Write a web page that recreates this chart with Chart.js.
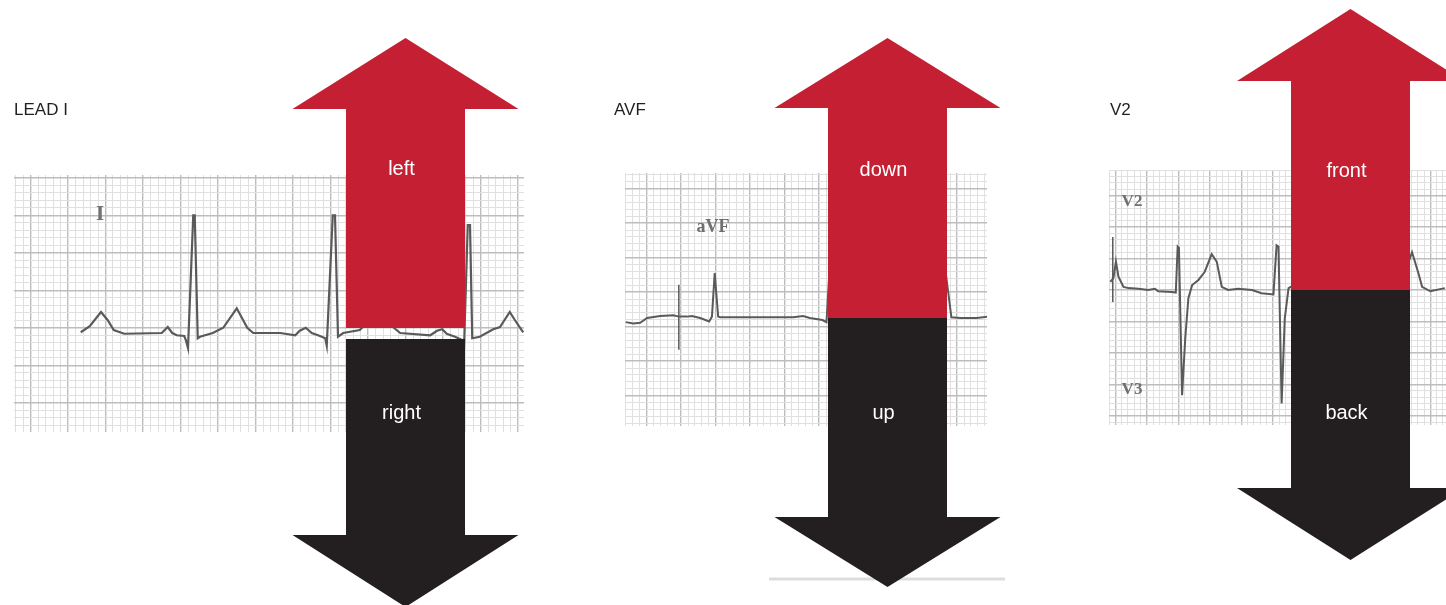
<!DOCTYPE html>
<html>
<head>
<meta charset="utf-8">
<script src="https://cdn.jsdelivr.net/npm/chart.js@4.4.1/dist/chart.umd.min.js"></script>
<style>
  html, body { margin: 0; padding: 0; background: #fff; }
  #wrap { position: relative; width: 1446px; height: 605px; overflow: hidden; }
  canvas { position: absolute; top: 0; }
</style>
</head>
<body>
<div id="wrap">
  <canvas id="leadI" style="left:0px" width="560" height="605"></canvas>
  <canvas id="leadAVF" style="left:560px" width="500" height="605"></canvas>
  <canvas id="leadV2" style="left:1060px" width="386" height="605"></canvas>
</div>
<script>
// traces in small squares (mm): x from strip left, y above baseline

// lead I
const leadIX = [8.9, 10.1, 11.6, 12.5, 13.3, 14.7, 19.7, 20.1, 20.5, 21.1, 21.7, 22.7, 22.9, 23.2,
  23.9, 24.1, 24.5, 24.8, 26.5, 27.9, 29.7, 31.1, 31.9, 35.5, 37.5, 38.1, 38.9, 39.7, 40.8, 41.5, 41.7,
  42.5, 42.8, 43.2, 43.9, 46.1, 47.7, 48.9, 50.4, 51.5, 55.5, 56.4, 57.1, 57.7, 58.8, 59.7, 60.0,
  60.5, 60.8, 61.1, 62.1, 63.9, 64.8, 66.1, 66.8, 67.9];
const leadIY = [0.1, 0.9, 2.8, 1.7, 0.4, -0.1, 0, 0.4, 0.8, 0, -0.3, -0.4, -0.9, -2.0,
  15.7, 15.7, -0.7, -0.5, 0, 0.7, 3.3, 0.7, 0, 0, -0.3, 0.3, 0.7, 0, -0.4, -0.7, -1.7,
  15.7, 15.7, -0.5, 0, 0.4, 2.0, 2.8, 0.9, 0, -0.3, 0.3, 0.5, -0.1, -0.5, -0.9, -2.0,
  14.4, 14.4, -0.7, -0.5, 0.5, 0.8, 2.8, 1.7, 0.1];

// aVF
const avfX = [0.1, 1.2, 2.2, 3.2, 5.1, 7.0, 7.8, 9.0, 9.7, 10.9, 12.2, 12.6, 13.0, 13.5, 13.8, 18.6,
  24.4, 25.8, 26.8, 28.6, 29.2, 29.6, 30.0, 34.1, 39.9, 44.9, 46.1, 46.5, 47.3, 48.6, 51.0, 52.5];
const avfY = [-0.6, -0.8, -0.7, 0, 0.3, 0.4, 0.2, 0.2, 0.3, 0, -0.5, 0.2, 6.5, 0.2, 0.1, 0.1,
  0.1, 0.3, 0, -0.3, -0.6, 6.4, 0, 0, 0, -0.1, -0.4, 6.4, 0.1, 0, 0, 0.2];
const avfCalX = [7.8, 7.8];
const avfCalY = [4.8, -4.6];

// V2
const v2X = [0.2, 0.7, 1.1, 1.5, 2.3, 3.1, 4.7, 6.2, 7.3, 7.8, 10.0, 10.6, 10.9, 11.1, 11.6, 12.1,
  12.6, 13.2, 14.2, 15.2, 16.3, 17.1, 17.9, 18.9, 20.5, 22.7, 24.2, 26.1, 26.6, 26.9, 27.4, 27.9,
  28.5, 30.3, 32.1, 33.8, 36.7, 41.8, 42.2, 42.5, 43.2, 43.7, 44.3, 45.9, 47.0, 48.1, 49.1, 49.7,
  51.0, 53.3];
const v2Y = [1.3, 1.9, 4.5, 2.1, 0.5, 0.3, 0.2, 0, 0.2, -0.2, -0.3, -0.4, 6.9, 6.7, -16.7, -7.7,
  -1.3, 0.8, 1.6, 2.9, 5.7, 4.5, 0.5, 0, 0.2, 0, -0.5, -0.7, 7.1, 6.9, -18.0, -4.5,
  0.3, 1.3, 5.6, 0.5, 0, -0.6, 7.0, 7.0, -17.9, -4.4, 0, 1.3, 2.9, 6.0, 2.7, 0.5,
  -0.2, 0.3];
const v2CalX = [0.6, 0.6];
const v2CalY = [8.4, -1.9];

const RED = '#c41f33';
const BLACK = '#231f20';
const TRACE = '#5a5a5a';

function pts(xs, ys) {
  return xs.map((x, i) => ({ x: x, y: ys[i] }));
}

// paper grid: a line every mm, darker every 5 mm
function gridTicks(min, max, majorAt) {
  const ticks = [];
  for (let k = Math.ceil(min - majorAt); majorAt + k <= max; k++) {
    ticks.push({ value: majorAt + k, major: ((k % 5) + 5) % 5 === 0 });
  }
  return ticks;
}

function paperAxis(min, max, majorAt) {
  return {
    type: 'linear',
    min: min,
    max: max,
    afterBuildTicks: (scale) => { scale.ticks = gridTicks(min, max, majorAt); },
    ticks: { display: false },
    border: { display: false },
    grid: {
      drawTicks: false,
      color: (c) => (c.tick && c.tick.major) ? '#bdbdbd' : '#e0e0e0',
      lineWidth: (c) => (c.tick && c.tick.major) ? 1.4 : 1
    }
  };
}

// arrows and labels drawn over the strips
const decor = {
  leadI: {
    title: { text: 'LEAD I', x: 14, y: 110 },
    paper: [{ text: 'I', x: 100, y: 215, size: 21 }],
    arrows: [
      { cx: 405.5, shaft: 59.5, head: 113, tip: 38, base: 109, end: 328, color: RED, label: 'left', ly: 169 },
      { cx: 405.5, shaft: 59.5, head: 113, tip: 607, base: 535, end: 339, color: BLACK, label: 'right', ly: 413 }
    ]
  },
  leadAVF: {
    title: { text: 'AVF', x: 54, y: 110 },
    paper: [{ text: 'aVF', x: 153, y: 227, size: 18 }],
    rule: { x1: 209, x2: 445, y: 579 },
    arrows: [
      { cx: 327.5, shaft: 59.5, head: 113, tip: 38, base: 108, end: 318, color: RED, label: 'down', ly: 170 },
      { cx: 327.5, shaft: 59.5, head: 113, tip: 587, base: 517, end: 318, color: BLACK, label: 'up', ly: 413 }
    ]
  },
  leadV2: {
    title: { text: 'V2', x: 50, y: 110 },
    paper: [{ text: 'V2', x: 72, y: 202, size: 17 }, { text: 'V3', x: 72, y: 390, size: 17 }],
    arrows: [
      { cx: 290.5, shaft: 59.5, head: 113.5, tip: 9, base: 81, end: 290, color: RED, label: 'front', ly: 171 },
      { cx: 290.5, shaft: 59.5, head: 113.5, tip: 560, base: 488, end: 290, color: BLACK, label: 'back', ly: 413 }
    ]
  }
};

function drawArrow(ctx, a) {
  ctx.fillStyle = a.color;
  ctx.beginPath();
  ctx.moveTo(a.cx, a.tip);
  ctx.lineTo(a.cx + a.head, a.base);
  ctx.lineTo(a.cx + a.shaft, a.base);
  ctx.lineTo(a.cx + a.shaft, a.end);
  ctx.lineTo(a.cx - a.shaft, a.end);
  ctx.lineTo(a.cx - a.shaft, a.base);
  ctx.lineTo(a.cx - a.head, a.base);
  ctx.closePath();
  ctx.fill();
}

const overlayPlugin = {
  id: 'overlay',
  afterDraw(chart) {
    const d = decor[chart.canvas.id];
    if (!d) return;
    const ctx = chart.ctx;
    ctx.save();
    ctx.textBaseline = 'middle';

    ctx.fillStyle = '#707070';
    ctx.textAlign = 'center';
    d.paper.forEach(p => {
      ctx.font = 'bold ' + p.size + 'px "Liberation Serif", "DejaVu Serif", serif';
      ctx.fillText(p.text, p.x, p.y);
    });

    if (d.rule) {
      ctx.strokeStyle = '#dddddd';
      ctx.lineWidth = 3;
      ctx.beginPath();
      ctx.moveTo(d.rule.x1, d.rule.y);
      ctx.lineTo(d.rule.x2, d.rule.y);
      ctx.stroke();
    }

    d.arrows.forEach(a => drawArrow(ctx, a));

    ctx.fillStyle = '#ffffff';
    ctx.font = '20px "Liberation Sans", Arial, sans-serif';
    d.arrows.forEach(a => ctx.fillText(a.label, a.cx - 4, a.ly));

    ctx.fillStyle = '#231f20';
    ctx.textAlign = 'left';
    ctx.font = '17px "Liberation Sans", Arial, sans-serif';
    ctx.fillText(d.title.text, d.title.x, d.title.y);
    ctx.restore();
  }
};

function makeStrip(id, datasets, xr, yr, padding) {
  new Chart(document.getElementById(id), {
    type: 'line',
    data: {
      datasets: datasets.map(ds => ({
        data: ds.data,
        borderColor: TRACE,
        borderWidth: ds.width,
        pointRadius: 0,
        tension: 0,
        fill: false
      }))
    },
    options: {
      responsive: false,
      animation: false,
      parsing: false,
      layout: { padding: padding, autoPadding: false },
      plugins: { legend: { display: false }, tooltip: { enabled: false } },
      scales: {
        x: paperAxis(xr[0], xr[1], xr[2]),
        y: paperAxis(yr[0], yr[1], yr[2])
      }
    },
    plugins: [overlayPlugin]
  });
}

makeStrip('leadI',
  [{ data: pts(leadIX, leadIY), width: 2.2 }],
  [0, 68, 2.2], [-13.2, 21.07, 0.67],
  { left: 14, right: 36, top: 175, bottom: 173 });

makeStrip('leadAVF',
  [{ data: pts(avfX, avfY), width: 2 }, { data: pts(avfCalX, avfCalY), width: 1.5 }],
  [0, 52.46, 3.14], [-15.65, 21.01, -1.26],
  { left: 65, right: 73, top: 173, bottom: 179 });

makeStrip('leadV2',
  [{ data: pts(v2X, v2Y), width: 2 }, { data: pts(v2CalX, v2CalY), width: 1.5 }],
  [0, 53.49, 1], [-21.43, 19.05, 0],
  { left: 49, right: 0, top: 170, bottom: 180 });
</script>
</body>
</html>
